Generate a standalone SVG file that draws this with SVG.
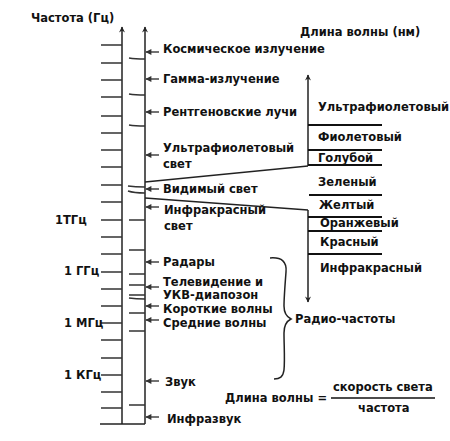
<svg xmlns="http://www.w3.org/2000/svg" width="450" height="441" viewBox="0 0 450 441">
<defs>
<marker id="up" viewBox="0 0 10 10" refX="9" refY="5" markerWidth="9" markerHeight="6" orient="auto" markerUnits="userSpaceOnUse">
<path d="M0,0 L10,5 L0,10 L3,5 Z" fill="#222"/>
</marker>
<marker id="ah" viewBox="0 0 10 10" refX="9" refY="5" markerWidth="7" markerHeight="6" orient="auto" markerUnits="userSpaceOnUse">
<path d="M0,0 L10,5 L0,10 Z" fill="#333"/>
</marker>
</defs>
<style>
text{font-family:"DejaVu Sans","Liberation Sans",sans-serif;font-size:11.5px;font-weight:bold;fill:#111}
.ln{stroke:#222;stroke-width:1.5;fill:none}
.tk{stroke:#333;stroke-width:1.6;fill:none}
.ar{stroke:#444;stroke-width:1.5;fill:none}
.sep{stroke:#111;stroke-width:2;fill:none}
</style>
<rect width="450" height="441" fill="#fff"/>

<g id="axes">
<line class="ln" x1="122" y1="424" x2="122" y2="27" marker-end="url(#up)"/>
<line class="ln" x1="145" y1="424" x2="145" y2="27" marker-end="url(#up)"/>
<line class="ln" x1="100" y1="424" x2="145" y2="424"/>
<text x="31" y="22">Частота (Гц)</text>
</g>

<g id="freq-ticks">
<path class="tk" d="M101,45H122M101,63H122M101,80H122M101,97H122M101,116H122M101,133H122M101,150H122M101,167H122M101,185H122M101,202H122M101,220H122M101,237H122M101,254H122M101,272H122M101,289H122M101,306H122M101,323H122M101,340H122M101,358H122M101,375H122M101,392H122M101,408H122"/>
<text x="55" y="224">1ТГц</text>
<text x="64" y="275">1 ГГц</text>
<text x="64" y="327">1 МГц</text>
<text x="64" y="379">1 КГц</text>
</g>

<g id="inner-ticks">
<path class="tk" d="M129,58Q135,59 145,59M129,94Q135,95 145,95M129,125Q135,126 145,126M128,186Q135,187 145,187M128,191Q134,193 145,193M129,220H145M129,250H145M129,274H145M129,285H145M129,295H145M129,298Q136,299 145,299M129,313H145M129,331H145M129,405H145"/>
</g>

<g id="connectors">
<line class="ar" x1="159" y1="52" x2="146" y2="52" marker-end="url(#ah)"/>
<line class="ar" x1="159" y1="79" x2="146" y2="79" marker-end="url(#ah)"/>
<line class="ar" x1="159" y1="112" x2="146" y2="112" marker-end="url(#ah)"/>
<line class="ar" x1="159" y1="155" x2="146" y2="155" marker-end="url(#ah)"/>
<line class="ar" x1="159" y1="189" x2="146" y2="189" marker-end="url(#ah)"/>
<line class="ar" x1="159" y1="207" x2="146" y2="207" marker-end="url(#ah)"/>
<line class="ar" x1="159" y1="262" x2="146" y2="262" marker-end="url(#ah)"/>
<line class="ar" x1="159" y1="287" x2="146" y2="287" marker-end="url(#ah)"/>
<line class="ar" x1="159" y1="306" x2="146" y2="306" marker-end="url(#ah)"/>
<line class="ar" x1="159" y1="320" x2="146" y2="320" marker-end="url(#ah)"/>
<line class="ar" x1="159" y1="381" x2="146" y2="381" marker-end="url(#ah)"/>
<line class="ar" x1="159" y1="417" x2="146" y2="417" marker-end="url(#ah)"/>
<line class="ln" x1="145" y1="182" x2="308" y2="166"/>
<line class="ln" x1="145" y1="198" x2="308" y2="210"/>
<path class="ln" d="M270,258 C282,257 287,262 286,272 C285,285 284,298 284,306 C284,314 287,317 291,319 C287,321 284,325 284,333 C284,345 285,360 284,370 C283,377 280,379 274,379" stroke-width="1.8"/>
</g>

<g id="labels">
<text x="163" y="53">Космическое излучение</text>
<text x="163" y="83">Гамма-излучение</text>
<text x="163" y="116">Рентгеновские лучи</text>
<text x="163" y="152">Ультрафиолетовый</text>
<text x="163" y="168">свет</text>
<text x="163" y="193">Видимый свет</text>
<text x="164" y="214">Инфракрасный</text>
<text x="164" y="230">свет</text>
<text x="163" y="266">Радары</text>
<text x="163" y="286">Телевидение и</text>
<text x="163" y="299">УКВ-диапозон</text>
<text x="163" y="313">Короткие волны</text>
<text x="163" y="327">Средние волны</text>
<text x="165" y="386">Звук</text>
<text x="167" y="423">Инфразвук</text>
<text x="295" y="323">Радио-частоты</text>
</g>

<g id="wavelength">
<text x="300" y="36">Длина волны (нм)</text>
<line class="ln" x1="308" y1="166" x2="308" y2="75" marker-end="url(#up)"/>
<line class="ln" x1="308" y1="210" x2="308" y2="302" marker-end="url(#up)"/>
<path class="sep" d="M308,125H382M308,150H382M308,165H382M309,195H382M308,217H382M308,231H382M308,254H382"/>
<text x="318" y="111">Ультрафиолетовый</text>
<text x="318" y="141">Фиолетовый</text>
<text x="318" y="162">Голубой</text>
<text x="318" y="186">Зеленый</text>
<text x="319" y="209">Желтый</text>
<text x="320" y="227">Оранжевый</text>
<text x="320" y="246">Красный</text>
<text x="320" y="272">Инфракрасный</text>
</g>

<g id="formula">
<text x="225" y="402">Длина волны =</text>
<text x="333" y="391">скорость света</text>
<line x1="331" y1="398" x2="435" y2="398" stroke="#111" stroke-width="1.5"/>
<text x="358" y="412">частота</text>
</g>
</svg>
